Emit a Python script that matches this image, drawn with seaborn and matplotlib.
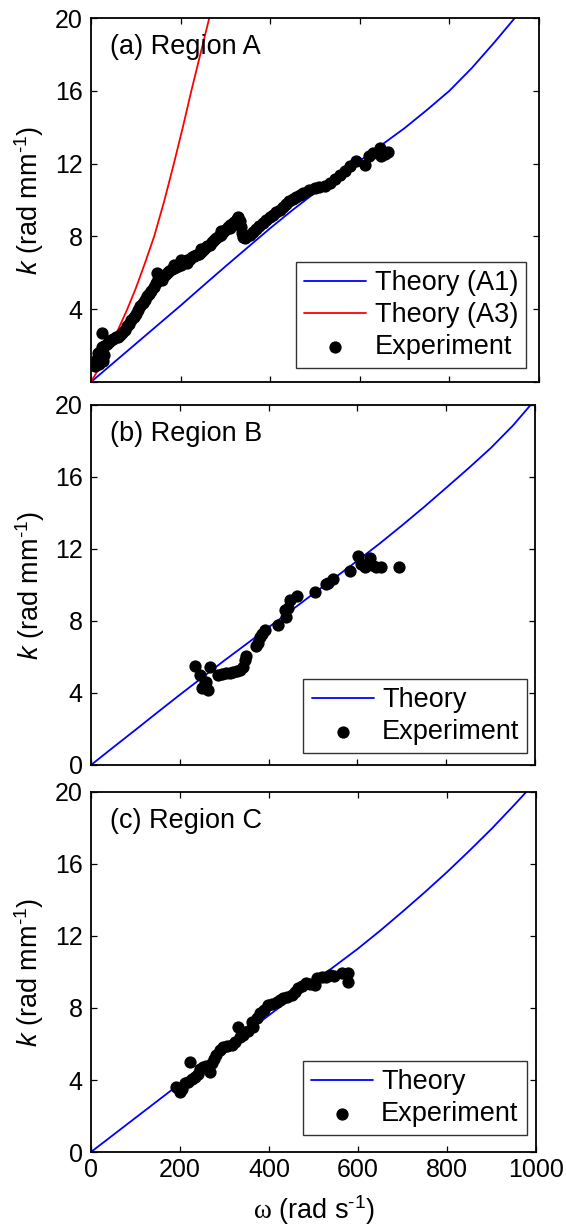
import matplotlib
matplotlib.use("Agg")
import matplotlib.pyplot as plt
import seaborn as sns

# ---------------- data ----------------
# Theory curves, k (rad/mm) versus omega (rad/s)
omega_theory_a1 = [0, 50, 100, 150, 200, 250, 300, 350, 400, 450, 500, 550,
                   600, 650, 700, 750, 800, 850, 900, 946]
k_theory_a1 = [0, 1.05, 2.1, 3.15, 4.2, 5.28, 6.35, 7.4, 8.45, 9.45, 10.4, 11.3,
               12.15, 13.05, 13.95, 14.95, 16.0, 17.25, 18.65, 20.0]

omega_theory_a3 = [0, 20, 41, 60, 81, 100, 120, 141, 163, 185, 205, 224, 245, 264]
k_theory_a3 = [0, 0.85, 1.84, 2.85, 4.0, 5.15, 6.5, 8.0, 9.9, 12.0, 14.0, 16.0, 18.1, 20.0]

omega_theory_b = [0, 50, 100, 150, 200, 250, 300, 350, 400, 450, 500, 550,
                  600, 650, 700, 750, 800, 850, 900, 950, 990]
k_theory_b = [0, 0.98, 1.95, 2.93, 3.9, 4.85, 5.8, 6.72, 7.65, 8.57, 9.5, 10.42,
              11.35, 12.3, 13.3, 14.33, 15.4, 16.48, 17.6, 18.85, 20.0]

omega_theory_c = [0, 50, 100, 150, 200, 250, 300, 350, 400, 450, 500, 550,
                  600, 650, 700, 750, 800, 850, 900, 950, 978]
k_theory_c = [0, 0.95, 1.9, 2.85, 3.8, 4.75, 5.7, 6.65, 7.6, 8.52, 9.45, 10.37,
              11.3, 12.3, 13.35, 14.43, 15.55, 16.73, 17.95, 19.25, 20.0]

# Measured dispersion, region A
omega_exp_a = [10, 13, 15, 18, 20, 22, 26, 30, 24,
               25, 30, 35, 40, 45, 50, 55, 60, 65, 70, 75, 80, 85, 90, 95, 100,
               105, 110, 115, 120, 125, 130, 135, 140, 145, 148, 150, 155, 158,
               160, 165, 170, 175, 180, 185, 185, 190, 195, 200, 200, 205, 210,
               215, 215, 220, 225, 230, 235, 240, 245, 245, 250, 255, 260, 265,
               270, 275, 280, 285, 290, 290, 295, 300, 305, 310, 310, 315, 320,
               325, 328, 332, 334, 336, 339, 343, 348, 354, 361, 368, 375, 383,
               391, 399, 406, 414, 421, 428, 436, 443, 451, 458, 466, 473, 486,
               499, 510, 522, 533, 544, 555, 566, 579, 592, 611, 620, 629, 644,
               648, 656, 663]
k_exp_a = [0.9, 1.25, 1.6, 1.0, 1.35, 1.7, 1.15, 1.5, 2.69,
           1.9, 2.0, 2.1, 2.2, 2.3, 2.35, 2.45, 2.5, 2.6, 2.7, 2.85, 3.05, 3.2, 3.4, 3.55, 3.75,
           3.95, 4.15, 4.35, 4.5, 4.7, 4.85, 5.0, 5.2, 5.45, 6.0, 5.65, 5.8, 5.6,
           5.85, 5.9, 6.0, 6.1, 6.2, 6.25, 6.45, 6.3, 6.4, 6.45, 6.7, 6.55, 6.6,
           6.7, 6.55, 6.75, 6.85, 6.9, 7.0, 7.05, 7.15, 7.3, 7.25, 7.35, 7.45, 7.55,
           7.7, 7.8, 7.9, 8.0, 8.1, 8.3, 8.25, 8.35, 8.5, 8.6, 8.45, 8.7, 8.8,
           8.95, 9.05, 8.85, 8.5, 8.2, 7.95, 7.9, 8.0, 8.1, 8.25, 8.4, 8.55, 8.75,
           8.9, 9.05, 9.2, 9.35, 9.45, 9.6, 9.8, 9.93, 10.05, 10.15, 10.3, 10.39, 10.55,
           10.67, 10.72, 10.75, 10.95, 11.15, 11.4, 11.58, 11.85, 12.13, 11.95, 12.4, 12.6, 12.87,
           12.41, 12.55, 12.63]

# Measured dispersion, region B
omega_exp_b = [234, 245, 249, 256, 260, 264, 267, 286, 296, 305, 313, 320, 328,
               335, 342, 346, 350, 372, 376, 380, 385, 391, 421, 436, 440, 444,
               448, 463, 504, 530, 534, 545, 584, 601, 609, 616, 628, 634, 643,
               654, 694]
k_exp_b = [5.5, 5.0, 4.26, 4.54, 4.63, 4.17, 5.43, 5.0, 5.05, 5.09, 5.12, 5.18, 5.2,
           5.28, 5.46, 5.83, 6.06, 6.6, 6.76, 7.13, 7.3, 7.5, 7.78, 8.6, 8.24, 8.7,
           9.17, 9.39, 9.63, 10.05, 10.13, 10.31, 10.8, 11.63, 11.17, 11.02, 11.48, 11.11, 11.02,
           11.02, 11.02]

# Measured dispersion, region C
omega_exp_c = [192, 199, 205, 211, 218, 222, 226, 233, 240, 246, 252, 258, 267,
               271, 276, 282, 290, 297, 306, 316, 324, 331, 334, 342, 352, 361,
               364, 372, 379, 388, 398, 407, 417, 425, 432, 441, 451, 458, 466,
               475, 484, 493, 503, 507, 518, 529, 537, 545, 563, 578, 578]
k_exp_c = [3.63, 3.35, 3.5, 3.81, 3.9, 5.02, 4.05, 4.19, 4.35, 4.6, 4.74, 4.8, 4.46,
           4.93, 5.15, 5.39, 5.65, 5.85, 5.9, 5.94, 6.1, 6.96, 6.41, 6.5, 6.75, 7.24,
           6.96, 7.45, 7.7, 7.9, 8.17, 8.25, 8.35, 8.45, 8.54, 8.62, 8.72, 8.9, 9.09,
           9.25, 9.37, 9.33, 9.28, 9.65, 9.7, 9.74, 9.83, 9.78, 9.93, 9.93, 9.46]

panel_titles = ["(a) Region A", "(b) Region B", "(c) Region C"]
x_ticks = [0, 200, 400, 600, 800, 1000]
y_ticks = [0, 4, 8, 12, 16, 20]

# ---------------- style ----------------
sns.set_style("ticks")
plt.rcParams["font.family"] = ["Liberation Sans", "DejaVu Sans"]
plt.rcParams["mathtext.fontset"] = "custom"
plt.rcParams["mathtext.rm"] = "Liberation Sans"
plt.rcParams["mathtext.it"] = "Liberation Sans:italic"
plt.rcParams["mathtext.sf"] = "Liberation Sans"
plt.rcParams["mathtext.tt"] = "Liberation Serif"
for key in ["text.color", "axes.labelcolor", "xtick.color", "ytick.color",
            "axes.edgecolor"]:
    plt.rcParams[key] = "black"
plt.rcParams["axes.linewidth"] = 1.3

TICK_FS = 18
TEXT_FS = 19.5

fig = plt.figure(figsize=(5.66, 12.25), dpi=100)
W, H = 566.0, 1225.0


def px_axes(left, right, top, bottom):
    return fig.add_axes([left / W, 1 - bottom / H, (right - left) / W, (bottom - top) / H])


ax_a = px_axes(91, 539, 18, 382)
ax_b = px_axes(91, 535, 405, 765)
ax_c = px_axes(91, 536, 792, 1152)

BLUE = "#0000FF"
RED = "#FF0000"
MS = 78
LW = 1.3

# Panel A
sns.lineplot(x=omega_theory_a1, y=k_theory_a1, ax=ax_a, color=BLUE, lw=LW,
             sort=False, estimator=None, label="Theory (A1)")
sns.lineplot(x=omega_theory_a3, y=k_theory_a3, ax=ax_a, color=RED, lw=LW,
             sort=False, estimator=None, label="Theory (A3)")
sns.scatterplot(x=omega_exp_a, y=k_exp_a, ax=ax_a, color="black", s=MS,
                linewidth=0, label="Experiment", zorder=3)

# Panel B
sns.lineplot(x=omega_theory_b, y=k_theory_b, ax=ax_b, color=BLUE, lw=LW,
             sort=False, estimator=None, label="Theory")
sns.scatterplot(x=omega_exp_b, y=k_exp_b, ax=ax_b, color="black", s=MS,
                linewidth=0, label="Experiment", zorder=3)

# Panel C
sns.lineplot(x=omega_theory_c, y=k_theory_c, ax=ax_c, color=BLUE, lw=LW,
             sort=False, estimator=None, label="Theory")
sns.scatterplot(x=omega_exp_c, y=k_exp_c, ax=ax_c, color="black", s=MS,
                linewidth=0, label="Experiment", zorder=3)

legend_anchor = [(0.971, 0.038), (0.983, 0.0325), (0.979, 0.047)]

for i, ax in enumerate([ax_a, ax_b, ax_c]):
    ax.set_xlim(0, 1000)
    ax.set_ylim(0, 20)
    ax.set_xticks(x_ticks)
    ax.set_yticks(y_ticks)
    ax.tick_params(axis="both", which="major", direction="in", length=4.3,
                   width=0.9, top=True, right=True, labelsize=TICK_FS,
                   color="black", labelcolor="black")
    ax.tick_params(axis="x", pad=4.5)
    ax.tick_params(axis="y", pad=6)
    for sp in ax.spines.values():
        sp.set_visible(True)
        sp.set_color("black")
    ax.set_ylabel(r"$\mathit{k}$ (rad mm$^{\text{-1}}$)", fontsize=TEXT_FS)
    ax.yaxis.set_label_coords(-0.1, 0.5)
    ax.text(0.042, 0.92, panel_titles[i], transform=ax.transAxes,
            fontsize=TEXT_FS, ha="left", va="center")
    leg = ax.legend(loc="lower right", bbox_to_anchor=legend_anchor[i],
                    borderaxespad=0, fontsize=TEXT_FS, frameon=True,
                    fancybox=False, framealpha=1, edgecolor="#333333",
                    handlelength=2.3, handletextpad=0.3, labelspacing=0.22,
                    borderpad=0.3, markerscale=1.0)
    leg.get_frame().set_linewidth(1.0)
    if i < 2:
        ax.set_xticklabels([])
        ax.set_xlabel("")

# hide the zero label of the top panel
ax_a.set_yticklabels(["", "4", "8", "12", "16", "20"])

ax_c.set_xlabel(r"$\mathtt{\omega}$ (rad s$^{\text{-1}}$)", fontsize=TEXT_FS)
ax_c.xaxis.set_label_coords(0.5, -0.114)

fig.savefig("out.png", dpi=100)
